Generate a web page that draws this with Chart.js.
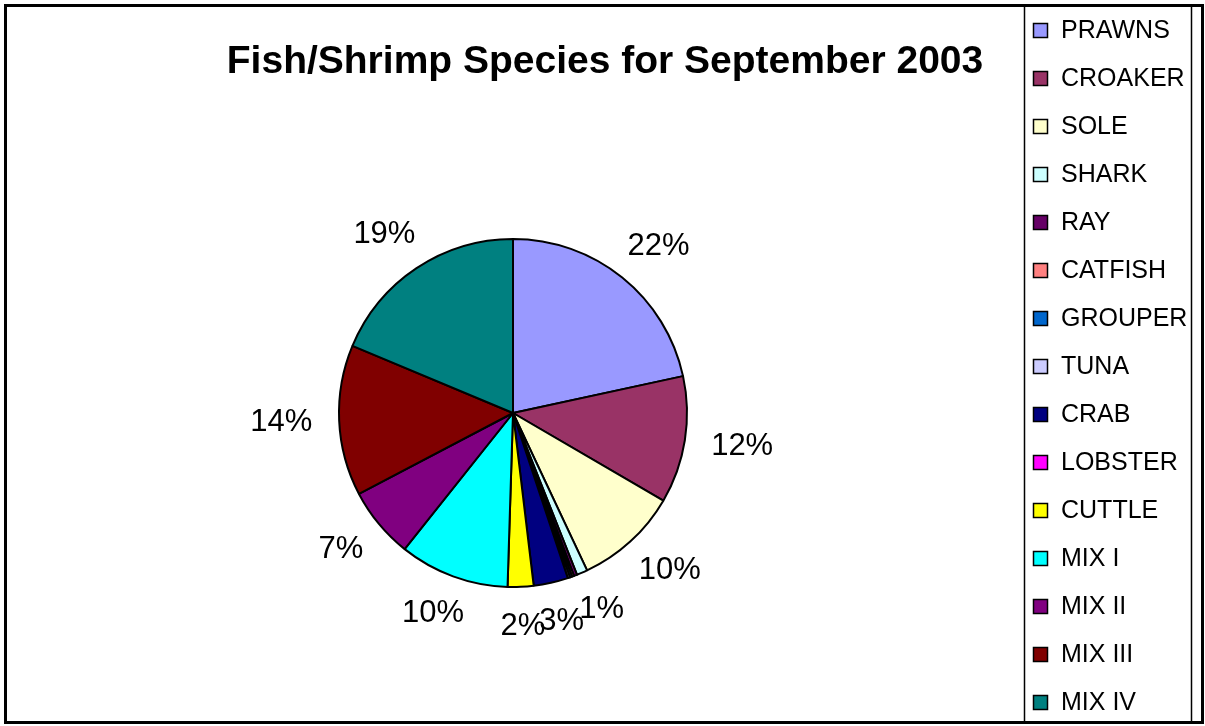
<!DOCTYPE html>
<html>
<head>
<meta charset="utf-8">
<title>Fish/Shrimp Species for September 2003</title>
<script src="https://cdn.jsdelivr.net/npm/chart.js@4.4.0/dist/chart.umd.min.js"></script>
<style>
  html, body { margin: 0; padding: 0; background: #fff; }
  canvas { display: block; }
</style>
</head>
<body>
<canvas id="speciesChart" width="1205" height="726"></canvas>
<script>
// Catch share by species, September 2003 (percent of total)
const species = ["PRAWNS", "CROAKER", "SOLE", "SHARK", "RAY", "CATFISH", "GROUPER", "TUNA",
                 "CRAB", "LOBSTER", "CUTTLE", "MIX I", "MIX II", "MIX III", "MIX IV"];
const shares = [21.6, 11.8, 9.6, 1.0, 0.3, 0.2, 0.2, 0.2,
                3.2, 0.0, 2.4, 10.2, 6.6, 14.0, 18.7];
const sliceColors = ["#9999FF", "#993366", "#FFFFCC", "#CCFFFF", "#660066", "#FF8080", "#0066CC", "#CCCCFF",
                     "#000080", "#FF00FF", "#FFFF00", "#00FFFF", "#800080", "#800000", "#008080"];
const chartTitle = "Fish/Shrimp Species for September 2003";

const FONT = "'Liberation Sans', Arial, Helvetica, sans-serif";

// titulo, rotulos de porcentagem, legenda e moldura desenhados a mao
const decorPlugin = {
  id: "decor",
  beforeDraw(chart) {
    const ctx = chart.ctx;
    ctx.save();
    ctx.fillStyle = "#fff";
    ctx.fillRect(0, 0, chart.width, chart.height);
    ctx.restore();
  },
  afterDraw(chart) {
    const ctx = chart.ctx;
    const meta = chart.getDatasetMeta(0);
    const values = chart.data.datasets[0].data;
    const total = values.reduce((a, b) => a + b, 0);

    ctx.save();

    // titulo
    ctx.fillStyle = "#000";
    ctx.font = "bold 39px " + FONT;
    ctx.textAlign = "center";
    ctx.textBaseline = "alphabetic";
    ctx.fillText(chartTitle, 605, 73);

    // rotulos de porcentagem fora da pizza
    ctx.font = "31px " + FONT;
    ctx.textBaseline = "middle";
    meta.data.forEach((arc, i) => {
      const pct = Math.round(values[i] / total * 100);
      if (pct < 1) return;
      const text = pct + "%";
      const mid = (arc.startAngle + arc.endAngle) / 2;
      const cos = Math.cos(mid), sin = Math.sin(mid);
      const w = ctx.measureText(text).width;
      const d = arc.outerRadius + 27;
      const x = arc.x + d * cos + (w / 2) * cos;
      const y = arc.y + d * sin + 13 * sin;
      ctx.fillText(text, x, y);
    });

    // legenda
    ctx.font = "25px " + FONT;
    ctx.textAlign = "left";
    species.forEach((name, i) => {
      const cy = 30 + i * 48;
      ctx.fillStyle = sliceColors[i];
      ctx.fillRect(1033, cy - 7, 15, 15);
      ctx.strokeStyle = "#000";
      ctx.lineWidth = 1.5;
      ctx.strokeRect(1033.5, cy - 6.5, 14, 14);
      ctx.fillStyle = "#000";
      ctx.fillText(name, 1061, cy + 1);
    });

    // caixa da legenda
    ctx.strokeStyle = "#000";
    ctx.lineWidth = 1.5;
    ctx.beginPath();
    ctx.moveTo(1024.5, 5);
    ctx.lineTo(1024.5, 722);
    ctx.moveTo(1191.5, 5);
    ctx.lineTo(1191.5, 722);
    ctx.stroke();

    // moldura externa
    ctx.lineWidth = 3;
    ctx.strokeRect(5.5, 5.5, 1197, 717);

    ctx.restore();
  }
};

new Chart(document.getElementById("speciesChart"), {
  type: "pie",
  data: {
    labels: species,
    datasets: [{
      data: shares,
      backgroundColor: sliceColors,
      borderColor: "#000",
      borderWidth: 2
    }]
  },
  options: {
    responsive: false,
    animation: false,
    layout: { padding: { left: 338, top: 238, right: 517, bottom: 138 } },
    plugins: {
      legend: { display: false },
      title: { display: false },
      tooltip: { enabled: false }
    }
  },
  plugins: [decorPlugin]
});
</script>
</body>
</html>
